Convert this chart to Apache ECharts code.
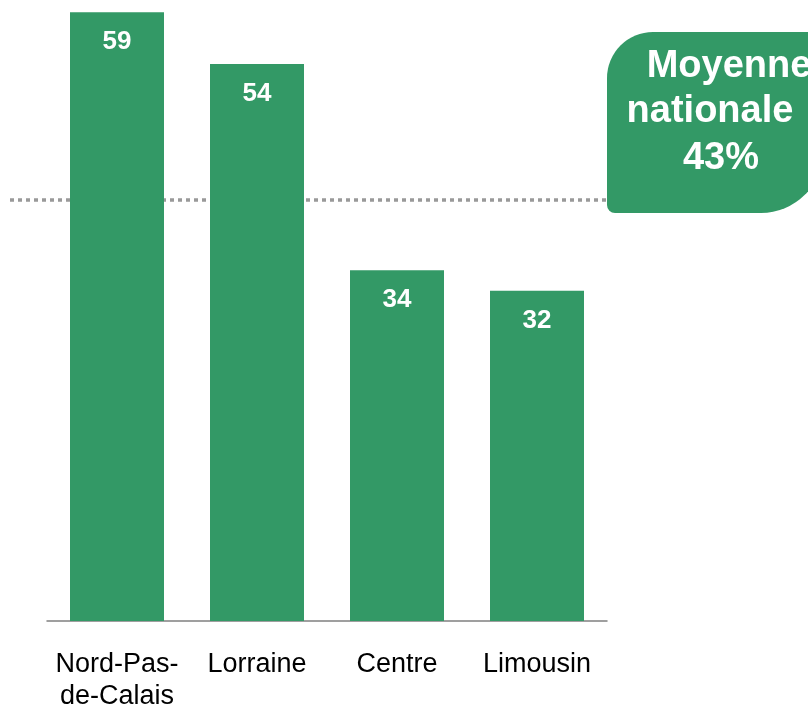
<!DOCTYPE html>
<html>
<head>
<meta charset="utf-8">
<script src="https://cdn.jsdelivr.net/npm/echarts@6/dist/echarts.min.js"></script>
<style>
  html, body { margin: 0; padding: 0; background: #fff; }
  #chart { width: 808px; height: 707px; }
</style>
</head>
<body>
<div id="chart"></div>
<script>
// data
var regions = ['Nord-Pas-\nde-Calais', 'Lorraine', 'Centre', 'Limousin'];
var values = [59, 54, 34, 32];
var avgLineValue = 40.8;   // where the dotted line sits in the picture
var avgLines = ['Moyenne', 'nationale', '43%'];

var green = '#339966';
var font = '"Liberation Sans", Arial, sans-serif';
var myChart = echarts.init(document.getElementById('chart'));

myChart.setOption({
  animation: false,
  grid: { left: 47, right: 201, top: 2, bottom: 86, outerBoundsMode: 'none', containLabel: false },
  xAxis: {
    type: 'category',
    data: regions,
    axisLine: { lineStyle: { color: '#808080', width: 1.5 } },
    axisTick: { show: false },
    axisLabel: {
      color: '#000',
      fontFamily: font,
      fontSize: 27,
      lineHeight: 32,
      margin: 28,
      interval: 0
    }
  },
  yAxis: {
    type: 'value',
    min: 0,
    max: 60,
    show: false,
    splitLine: { show: false }
  },
  series: [{
    type: 'bar',
    data: values,
    barWidth: 94,
    itemStyle: { color: green },
    z: 3,
    label: {
      show: true,
      position: 'insideTop',
      distance: 17,
      color: '#fff',
      fontWeight: 'bold',
      fontFamily: font,
      fontSize: 26
    },
    markLine: {
      silent: true,
      symbol: 'none',
      z: 1,
      label: { show: false },
      lineStyle: { color: '#999', width: 3.5, type: [4, 4], opacity: 1 },
      data: [[{ x: 10, yAxis: avgLineValue }, { x: 606, yAxis: avgLineValue }]]
    }
  }],
  graphic: [
    {
      type: 'rect',
      z: 10,
      shape: { x: 607, y: 32, width: 216, height: 181, r: [46, 0, 62, 8] },
      style: { fill: green }
    },
    {
      type: 'text', z: 11, x: 729, y: 67,
      style: { text: avgLines[0], fill: '#fff', font: 'bold 38px ' + font, align: 'center', verticalAlign: 'middle' }
    },
    {
      type: 'text', z: 11, x: 710, y: 112,
      style: { text: avgLines[1], fill: '#fff', font: 'bold 38px ' + font, align: 'center', verticalAlign: 'middle' }
    },
    {
      type: 'text', z: 11, x: 721, y: 159,
      style: { text: avgLines[2], fill: '#fff', font: 'bold 38px ' + font, align: 'center', verticalAlign: 'middle' }
    }
  ]
});
</script>
</body>
</html>
